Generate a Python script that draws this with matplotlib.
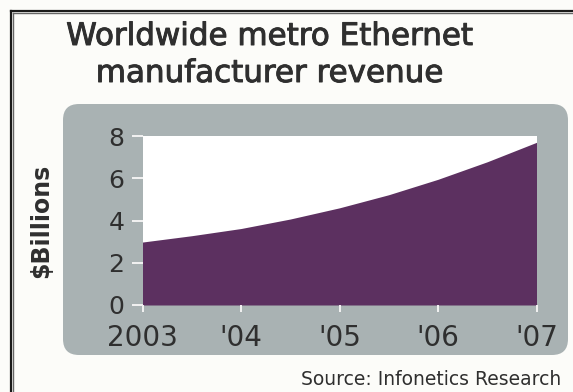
import matplotlib
matplotlib.use("Agg")
import matplotlib.pyplot as plt
import matplotlib.patheffects as pe
from matplotlib.patches import FancyBboxPatch
from matplotlib.lines import Line2D
from matplotlib.transforms import IdentityTransform

# revenue ($ billions), yearly plus mid-year readings
years = [2003, 2003.5, 2004, 2004.5, 2005, 2005.5, 2006, 2006.5, 2007]
revenue = [2.98, 3.28, 3.62, 4.07, 4.6, 5.22, 5.95, 6.78, 7.7]

tick_years = [2003, 2004, 2005, 2006, 2007]
tick_labels = ["2003", "'04", "'05", "'06", "'07"]
y_ticks = [0, 2, 4, 6, 8]

W, H = 573, 392
text_col = "#2f2f2f"
purple = "#5c3060"
panel_col = "#a9b2b3"

plt.rcParams["font.family"] = ["DejaVu Sans"]

fig = plt.figure(figsize=(W / 100, H / 100), dpi=100)
fig.patch.set_facecolor("#fcfcf9")

heavy = [pe.withStroke(linewidth=0.7, foreground=text_col)]

# double frame (left + top, cropped on right/bottom)
for off, lw, col in [(10.5, 1.6, "#1a1a1a"), (13.2, 1.0, "#666666")]:
    fig.add_artist(Line2D([off, off], [0, H - off], transform=IdentityTransform(),
                          color=col, lw=lw))
    fig.add_artist(Line2D([off, W], [H - off, H - off], transform=IdentityTransform(),
                          color=col, lw=lw))

# rounded grey panel behind the chart
px0, py0 = 63, H - 355
panel = FancyBboxPatch((px0 + 16, py0 + 16), 505 - 32, 251 - 32,
                       boxstyle="round,pad=16", transform=IdentityTransform(),
                       facecolor=panel_col, edgecolor="none", zorder=0)
fig.add_artist(panel)

# title
fig.text(270 / W, 1 - 45 / H, "Worldwide metro Ethernet", ha="center", va="baseline",
         fontsize=22.3, color=text_col, path_effects=heavy)
fig.text(270 / W, 1 - 82 / H, "manufacturer revenue", ha="center", va="baseline",
         fontsize=22.3, color=text_col, path_effects=heavy)

# source
fig.text(561 / W, 1 - 385 / H, "Source: Infonetics Research", ha="right", va="baseline",
         fontsize=13.5, color=text_col)

left, right, top, bottom = 142.5, 536.5, 136, 305
ax = fig.add_axes([left / W, 1 - bottom / H, (right - left) / W, (bottom - top) / H])
ax.set_facecolor("white")
ax.set_zorder(2)

ax.fill_between(years, revenue, 0, color=purple, linewidth=0)

ax.set_xlim(2003, 2007)
ax.set_ylim(0, 8)
ax.set_xticks(tick_years)
ax.set_xticklabels(tick_labels)
ax.set_yticks(y_ticks)
for s in ax.spines.values():
    s.set_visible(False)

ax.tick_params(axis="y", length=8, width=1.4, color="#f2f2f2", pad=5,
               labelsize=18, labelcolor=text_col)
ax.tick_params(axis="x", length=5, width=1.4, color="#f2f2f2", pad=9,
               labelsize=20, labelcolor=text_col)

fig.text(41 / W, 1 - 221 / H, "$Billions", rotation=90, ha="center", va="center",
         fontsize=17, fontweight="bold", color=text_col)

fig.savefig("out.png", dpi=100, facecolor=fig.get_facecolor())
